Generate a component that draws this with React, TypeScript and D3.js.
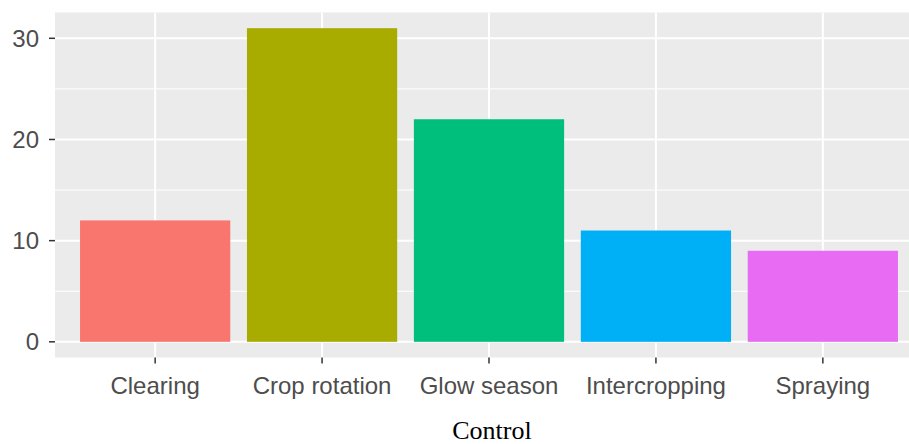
import React from "react";
import * as d3 from "d3";

const categories = ["Clearing", "Crop rotation", "Glow season", "Intercropping", "Spraying"];
const counts = [12, 31, 22, 11, 9];
const colors = ["#F8766D", "#A8AB00", "#00BF7D", "#00B0F6", "#E76BF3"];
const yTicks = [0, 10, 20, 30];
const yMinor = [5, 15, 25];
const xTitle = "Control";

export default function App() {
  const W = 909, H = 444;
  const left = 55, right = 923, top = 12.5, bottom = 357.5;
  const maxV = d3.max(counts) as number;
  const y = d3.scaleLinear().domain([-maxV * 0.05, maxV * 1.05]).range([bottom, top]);
  const step = (right - left) / (categories.length - 1 + 1.2);
  const x = d3.scalePoint<string>().domain(categories).range([left + 0.6 * step, right - 0.6 * step]);
  const bw = step * 0.9;
  const font = "'Liberation Sans', Arial, sans-serif";
  return (
    <svg width={W} height={H} style={{ position: "absolute", left: 0, top: 0, background: "#fff" }}>
      <rect x={left} y={top} width={right - left} height={bottom - top} fill="#EBEBEB" />
      {yMinor.map((t) => (
        <line key={"ym" + t} x1={left} x2={right} y1={y(t)} y2={y(t)} stroke="#fff" strokeWidth={1} />
      ))}
      {yTicks.map((t) => (
        <line key={"yM" + t} x1={left} x2={right} y1={y(t)} y2={y(t)} stroke="#fff" strokeWidth={2} />
      ))}
      {categories.map((c) => (
        <line key={"xg" + c} x1={x(c)} x2={x(c)} y1={top} y2={bottom} stroke="#fff" strokeWidth={2} />
      ))}
      {categories.map((c, i) => (
        <rect key={c} x={(x(c) as number) - bw / 2} y={y(counts[i])} width={bw} height={y(0) - y(counts[i])} fill={colors[i]} />
      ))}
      {yTicks.map((t) => (
        <g key={"yt" + t}>
          <line x1={left - 6} x2={left} y1={y(t)} y2={y(t)} stroke="#333" strokeWidth={1.5} />
          <text x={left - 16} y={y(t)} dy="0.36em" textAnchor="end" fontFamily={font} fontSize={24} fill="#4D4D4D">{t}</text>
        </g>
      ))}
      {categories.map((c) => (
        <g key={"xt" + c}>
          <line x1={x(c)} x2={x(c)} y1={bottom} y2={bottom + 6} stroke="#333" strokeWidth={1.5} />
          <text x={x(c)} y={394} textAnchor="middle" fontFamily={font} fontSize={24} fill="#4D4D4D">{c}</text>
        </g>
      ))}
      <text x={(left + right) / 2 + 3} y={439} textAnchor="middle" fontFamily="'Liberation Serif', 'Times New Roman', serif" fontSize={26} fill="#000">{xTitle}</text>
    </svg>
  );
}
